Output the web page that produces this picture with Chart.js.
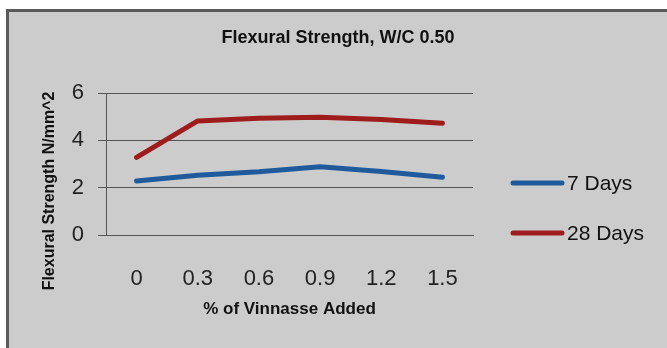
<!DOCTYPE html>
<html>
<head>
<meta charset="utf-8">
<script src="https://cdn.jsdelivr.net/npm/chart.js@4"></script>
<style>
  html, body { margin: 0; padding: 0; background: #ffffff; }
  #wrap { width: 667px; height: 348px; position: relative; }
</style>
</head>
<body>
<div id="wrap"><canvas id="flexChart" width="667" height="348"></canvas></div>
<script>
// chart data
const categories = ['0', '0.3', '0.6', '0.9', '1.2', '1.5'];
const days7 = [2.28, 2.52, 2.67, 2.88, 2.68, 2.44];
const days28 = [3.28, 4.82, 4.93, 4.98, 4.88, 4.72];
const yTicks = [0, 2, 4, 6];

const chartTitle = 'Flexural Strength, W/C 0.50';
const xTitle = '% of Vinnasse Added';
const yTitle = 'Flexural Strength N/mm^2';

const BLUE = '#1f5b9c';
const RED = '#9e1c1c';
const FONT = '"Liberation Sans", Arial, sans-serif';

// grey frame, titles and legend, drawn on the canvas
const framePlugin = {
    id: 'frame',
    beforeDraw(chart) {
        const c = chart.ctx;
        c.save();
        c.fillStyle = '#ffffff';
        c.fillRect(0, 0, chart.width, chart.height);
        c.fillStyle = '#5a5a5a';
        c.fillRect(6, 9, 700, 400);
        c.fillStyle = '#cccccc';
        c.fillRect(9, 12, 700, 400);
        c.restore();
    },
    afterDraw(chart) {
        const c = chart.ctx;
        const area = chart.chartArea;
        c.save();
        c.fillStyle = '#111111';
        c.textAlign = 'center';
        c.textBaseline = 'middle';

        c.font = 'bold 18px ' + FONT;
        c.fillText(chartTitle, 338, 38);

        c.font = 'bold 17px ' + FONT;
        c.fillText(xTitle, (area.left + area.right) / 2, 309);

        c.translate(50, 191);
        c.rotate(-Math.PI / 2);
        c.font = 'bold 16px ' + FONT;
        c.fillText(yTitle, 0, 0);
        c.restore();

        // legend
        const items = [
            { label: '7 Days', color: BLUE, y: 183 },
            { label: '28 Days', color: RED, y: 233 }
        ];
        c.save();
        c.font = '21px ' + FONT;
        c.textAlign = 'left';
        c.textBaseline = 'middle';
        items.forEach(it => {
            c.strokeStyle = it.color;
            c.lineWidth = 5;
            c.lineCap = 'round';
            c.beginPath();
            c.moveTo(513, it.y);
            c.lineTo(562, it.y);
            c.stroke();
            c.fillStyle = '#111111';
            c.fillText(it.label, 567, it.y + 1);
        });
        c.restore();
    }
};

const ctx = document.getElementById('flexChart').getContext('2d');

const chart = new Chart(ctx, {
    type: 'line',
    data: {
        labels: categories,
        datasets: [
            {
                label: '7 Days',
                data: days7,
                borderColor: BLUE,
                backgroundColor: BLUE,
                borderWidth: 5,
                pointRadius: 0,
                tension: 0,
                fill: false,
                borderCapStyle: 'round',
                borderJoinStyle: 'round'
            },
            {
                label: '28 Days',
                data: days28,
                borderColor: RED,
                backgroundColor: RED,
                borderWidth: 5,
                pointRadius: 0,
                tension: 0,
                fill: false,
                borderCapStyle: 'round',
                borderJoinStyle: 'round'
            }
        ]
    },
    options: {
        responsive: false,
        animation: false,
        devicePixelRatio: 1,
        layout: {
            padding: { left: 0, right: 194, top: 93, bottom: 0 }
        },
        plugins: {
            legend: { display: false },
            title: { display: false },
            tooltip: { enabled: false }
        },
        scales: {
            x: {
                offset: true,
                grid: { display: false },
                border: { display: true, color: '#555555', width: 1 },
                ticks: {
                    color: '#222222',
                    font: { family: FONT, size: 22 },
                    padding: 23,
                    maxRotation: 0
                },
                afterFit(scale) { scale.height = 113; }
            },
            y: {
                min: 0,
                max: 6,
                afterBuildTicks(scale) {
                    scale.ticks = yTicks.map(v => ({ value: v }));
                },
                grid: {
                    color: '#555555',
                    lineWidth: 1,
                    drawTicks: true,
                    tickLength: 8,
                    tickColor: '#555555'
                },
                border: { display: true, color: '#555555', width: 1 },
                ticks: {
                    color: '#222222',
                    font: { family: FONT, size: 22 },
                    padding: 14
                },
                afterFit(scale) { scale.width = 106; }
            }
        }
    },
    plugins: [framePlugin]
});
</script>
</body>
</html>
